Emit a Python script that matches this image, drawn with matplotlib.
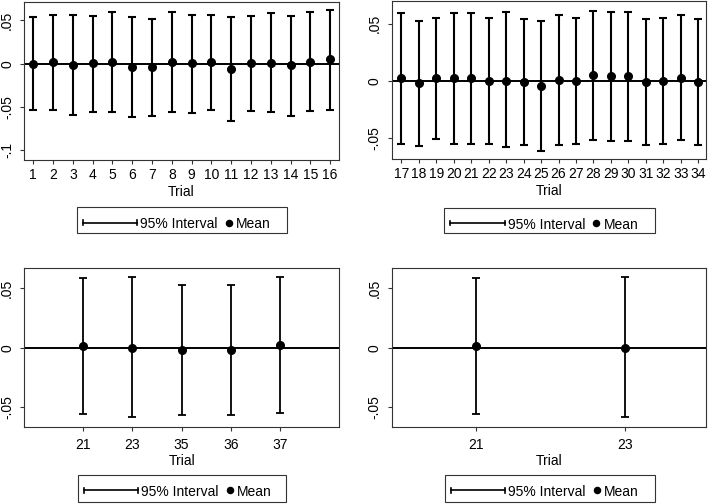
import matplotlib
matplotlib.use('Agg')
import matplotlib.pyplot as plt
from matplotlib import font_manager
from matplotlib.lines import Line2D
from matplotlib.patches import Rectangle

# ---------------- data ----------------
trials_a = [1, 2, 3, 4, 5, 6, 7, 8, 9, 10, 11, 12, 13, 14, 15, 16]
mean_a = [0.000, 0.002, -0.001, 0.0004, 0.002, -0.004, -0.004, 0.002, 0.0004, 0.002,
          -0.006, 0.0004, 0.001, -0.002, 0.002, 0.005]
upper_a = [0.0535, 0.0566, 0.0558, 0.0550, 0.0600, 0.0539, 0.0516, 0.0600, 0.0566, 0.0566,
           0.0540, 0.0550, 0.0585, 0.0550, 0.0600, 0.0620]
lower_a = [-0.0531, -0.0530, -0.0589, -0.0554, -0.0554, -0.0610, -0.0600, -0.0554, -0.0570, -0.0530,
           -0.0660, -0.0550, -0.0560, -0.0600, -0.0550, -0.0530]

trials_b = [17, 18, 19, 20, 21, 22, 23, 24, 25, 26, 27, 28, 29, 30, 31, 32, 33, 34]
mean_b = [0.002, -0.0023, 0.002, 0.002, 0.002, -0.0006, 0.000, -0.001, -0.0047, 0.0003,
          -0.0003, 0.005, 0.0038, 0.0038, -0.001, -0.0006, 0.002, -0.001]
upper_b = [0.0591, 0.0526, 0.0553, 0.0591, 0.0591, 0.0553, 0.0600, 0.0544, 0.0526, 0.0576,
           0.0553, 0.0614, 0.0605, 0.0605, 0.0544, 0.0553, 0.0576, 0.0544]
lower_b = [-0.0556, -0.0570, -0.0515, -0.0556, -0.0556, -0.0556, -0.0580, -0.0564, -0.0614, -0.0564,
           -0.0556, -0.0520, -0.0530, -0.0530, -0.0564, -0.0556, -0.0520, -0.0564]

trials_c = ["21", "23", "35", "36", "37"]
mean_c = [0.0011, 0.000, -0.002, -0.002, 0.002]
upper_c = [0.0581, 0.0589, 0.0528, 0.0528, 0.0589]
lower_c = [-0.0556, -0.0584, -0.0567, -0.0567, -0.0547]

trials_d = ["21", "23"]
mean_d = [0.0011, 0.000]
upper_d = [0.0581, 0.0589]
lower_d = [-0.0556, -0.0584]

xlabel = "Trial"
legend_labels = ["95% Interval", "Mean"]

# ---------------- style ----------------
W, H = 709, 504
try:
    font_manager.findfont('Liberation Sans Narrow', fallback_to_default=False)
    FAM, FS = 'Liberation Sans Narrow', 11.5
except Exception:
    FAM, FS = 'Liberation Sans', 10
plt.rcParams['font.family'] = [FAM, 'DejaVu Sans']

EDGE = '#333333'


def rect(l, t, r, b):
    return [l / W, 1 - b / H, (r - l) / W, (b - t) / H]


fig = plt.figure(figsize=(W / 100, H / 100), dpi=100)
fig.patch.set_facecolor('white')


def fmt_tick(v):
    if v == 0:
        return "0"
    s = f"{v:g}"
    return s.replace("0.", ".")


def panel(box, x, mean, lo, hi, xlim, ylim, yticks, xticklabels=None, lw=1.5, ms=5.5,
          xpad=3.5, lpad=2.0):
    ax = fig.add_axes(rect(*box))
    ax.axhline(0, color='black', lw=1.4, zorder=1)
    yerr = [[m - l for m, l in zip(mean, lo)], [h - m for m, h in zip(mean, hi)]]
    ax.errorbar(x, mean, yerr=yerr, fmt='o', color='black', ms=ms, elinewidth=lw,
                capsize=2.6, capthick=lw, zorder=3)
    ax.set_xlim(*xlim)
    ax.set_ylim(*ylim)
    ax.set_yticks(yticks)
    ax.set_yticklabels([fmt_tick(v) for v in yticks], rotation=90, va='center')
    ax.set_xticks(x)
    if xticklabels is not None:
        ax.set_xticklabels(xticklabels)
    else:
        ax.set_xticklabels([str(v) for v in x])
    for s in ax.spines.values():
        s.set_color(EDGE)
        s.set_linewidth(0.8)
    ax.tick_params(direction='out', length=2.6, width=0.8, color=EDGE, labelsize=FS)
    ax.tick_params(axis='y', pad=4.5)
    ax.tick_params(axis='x', pad=xpad)
    ax.set_xlabel(xlabel, fontsize=FS, labelpad=lpad)
    return ax


def legend(l, t, r, b):
    fig.add_artist(Rectangle((l / W, 1 - b / H), (r - l) / W, (b - t) / H,
                             transform=fig.transFigure, fill=False, ec=EDGE, lw=0.8))
    yl = 1 - (t + 15.3) / H
    x0, x1 = (l + 6) / W, (l + 60.5) / W
    fig.add_artist(Line2D([x0, x1], [yl, yl], transform=fig.transFigure, color='black', lw=1.2))
    for xc in (x0, x1):
        fig.add_artist(Line2D([xc, xc], [yl - 2.2 / H, yl + 2.2 / H], transform=fig.transFigure,
                              color='black', lw=1.2))
    yb = 1 - (t + 21) / H
    fig.text((l + 63.5) / W, yb, legend_labels[0], ha='left', va='baseline', fontsize=FS)
    fig.add_artist(Line2D([(l + 152) / W], [yl], transform=fig.transFigure, marker='o',
                          ms=4.4, color='black', lw=0))
    fig.text((l + 159.5) / W, yb, legend_labels[1], ha='left', va='baseline', fontsize=FS)


panel((24, 1.7, 339, 160), trials_a, mean_a, lower_a, upper_a,
      (0.53, 16.45), (-0.1111, 0.0715), [-0.1, -0.05, 0, 0.05])
panel((391.7, 1, 706.3, 159), trials_b, mean_b, lower_b, upper_b,
      (16.45, 34.46), (-0.0687, 0.0699), [-0.05, 0, 0.05])
panel((24, 268.3, 339.3, 426.7), list(range(len(trials_c))), mean_c, lower_c, upper_c,
      (-1.19, 5.19), (-0.0662, 0.0665), [-0.05, 0, 0.05], xticklabels=trials_c, lw=1.3,
      xpad=5.5, lpad=1.5)
panel((391.7, 268.3, 706.3, 426.7), list(range(len(trials_d))), mean_d, lower_d, upper_d,
      (-0.567, 1.549), (-0.0662, 0.0665), [-0.05, 0, 0.05], xticklabels=trials_d, lw=1.3,
      xpad=5.5, lpad=1.5)

legend(76.7, 207.3, 286.7, 233.3)
legend(444.3, 207.7, 655, 233.3)
legend(77.7, 475, 285.7, 502.3)
legend(444.7, 475, 654.7, 502.3)

fig.savefig('out.png', dpi=100, facecolor='white')
